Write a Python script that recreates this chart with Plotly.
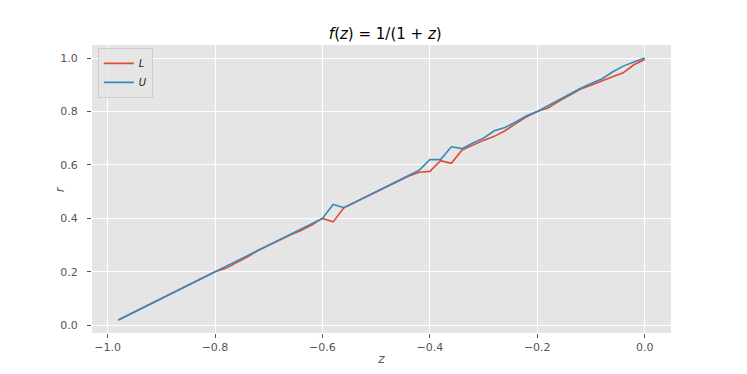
import plotly.graph_objects as go

# bounds on r over z, sampled every 0.02
z = [-0.98, -0.96, -0.94, -0.92, -0.90, -0.88, -0.86, -0.84, -0.82, -0.80,
     -0.78, -0.76, -0.74, -0.72, -0.70, -0.68, -0.66, -0.64, -0.62, -0.60,
     -0.58, -0.56, -0.54, -0.52, -0.50, -0.48, -0.46, -0.44, -0.42, -0.40,
     -0.38, -0.36, -0.34, -0.32, -0.30, -0.28, -0.26, -0.24, -0.22, -0.20,
     -0.18, -0.16, -0.14, -0.12, -0.10, -0.08, -0.06, -0.04, -0.02, 0.00]

r_lower = [0.020, 0.040, 0.060, 0.080, 0.100, 0.120, 0.137, 0.157, 0.178, 0.200,
           0.213, 0.233, 0.255, 0.280, 0.300, 0.320, 0.338, 0.355, 0.375, 0.400,
           0.387, 0.440, 0.460, 0.480, 0.500, 0.520, 0.538, 0.558, 0.573, 0.576,
           0.616, 0.606, 0.656, 0.675, 0.692, 0.707, 0.728, 0.755, 0.780, 0.800,
           0.813, 0.838, 0.862, 0.883, 0.898, 0.915, 0.930, 0.945, 0.975, 0.995]

r_upper = [0.020, 0.040, 0.060, 0.080, 0.100, 0.120, 0.140, 0.160, 0.180, 0.200,
           0.222, 0.241, 0.260, 0.280, 0.300, 0.320, 0.340, 0.360, 0.380, 0.400,
           0.452, 0.440, 0.460, 0.480, 0.500, 0.520, 0.542, 0.562, 0.580, 0.620,
           0.620, 0.668, 0.661, 0.682, 0.700, 0.728, 0.740, 0.761, 0.784, 0.800,
           0.822, 0.845, 0.866, 0.886, 0.905, 0.922, 0.948, 0.970, 0.985, 1.000]

x_ticks = [-1.0, -0.8, -0.6, -0.4, -0.2, 0.0]
y_ticks = [0.0, 0.2, 0.4, 0.6, 0.8, 1.0]

RED = "#E24A33"
BLUE = "#348ABD"
PANEL = "#E5E5E5"
TICK = "#555555"
FONT = "DejaVu Sans"

fig = go.Figure()
fig.add_trace(go.Scatter(x=z, y=r_lower, mode="lines", name="<i>L</i>",
                         line=dict(color=RED, width=1.6)))
fig.add_trace(go.Scatter(x=z, y=r_upper, mode="lines", name="<i>U</i>",
                         line=dict(color=BLUE, width=1.6)))

axis_common = dict(
    showgrid=True, gridcolor="white", gridwidth=1,
    zeroline=False, showline=False, automargin=False,
    ticks="outside", ticklen=4, tickwidth=1, tickcolor=TICK,
    tickfont=dict(family=FONT, size=11, color=TICK),
    tickformat=".1f",
)

# page body has an 8px margin, so the figure is shrunk by that much
fig.update_layout(
    width=739, height=366,
    margin=dict(l=84, r=76, t=37, b=41),
    paper_bgcolor="white", plot_bgcolor=PANEL,
    font=dict(family=FONT, color="#222222"),
    title=dict(text="<i>f</i>(<i>z</i>) = 1/(1 + <i>z</i>)",
               x=0.5105, xanchor="center", y=0.93, yanchor="middle",
               font=dict(family=FONT, size=15, color="black")),
    xaxis=dict(range=[-1.029, 0.049], tickvals=x_ticks, ticklabelstandoff=0,
               title=dict(text="<i>z</i>", standoff=1,
                          font=dict(family=FONT, size=12, color=TICK)),
               **axis_common),
    yaxis=dict(range=[-0.029, 1.049], tickvals=y_ticks, ticklabelstandoff=7,
               **axis_common),
    annotations=[dict(text="<i>r</i>", xref="paper", yref="paper",
                      x=-0.055, y=0.5, xanchor="center", yanchor="middle",
                      textangle=-90, showarrow=False,
                      font=dict(family=FONT, size=12, color=TICK))],
    legend=dict(x=0.01, y=0.99, xanchor="left", yanchor="top",
                bgcolor="rgba(229,229,229,0.8)", bordercolor="#cccccc",
                borderwidth=1, font=dict(family=FONT, size=10, color="#222222"),
                itemwidth=30),
    showlegend=True,
)

fig.write_html("out.html")
